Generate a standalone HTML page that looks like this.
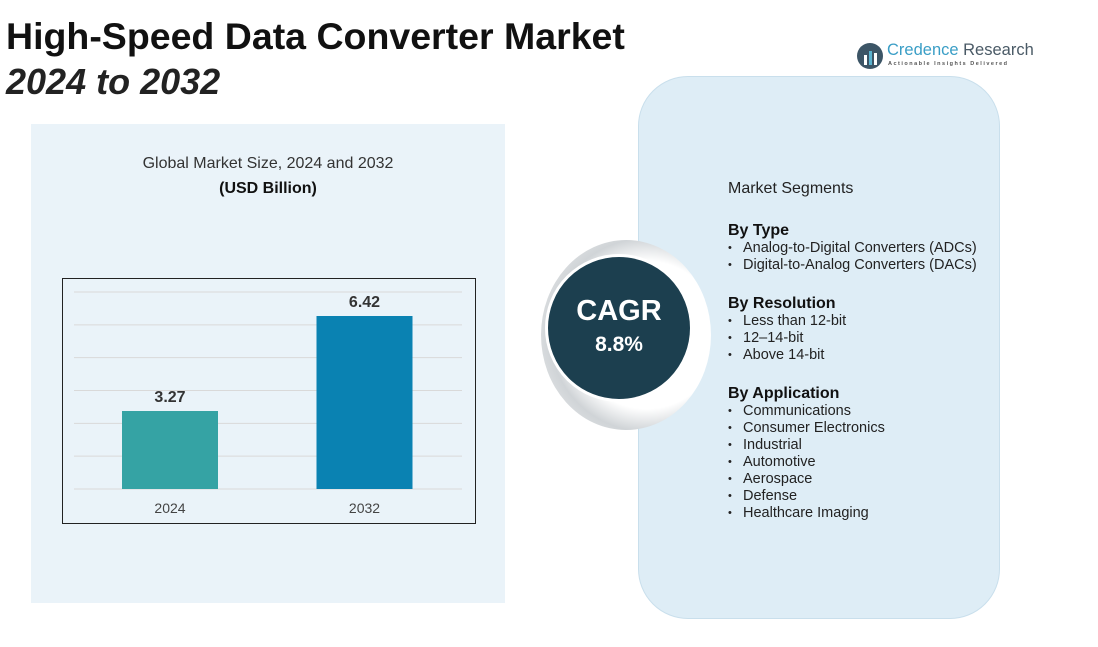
<!DOCTYPE html>
<html><head><meta charset="utf-8"><style>
body{margin:0;width:1098px;height:647px;background:#fff;font-family:"Liberation Sans",sans-serif;position:relative;overflow:hidden}
.abs{position:absolute}
.seg{font-size:14.5px;color:#222;line-height:17px}
.seg b{font-size:16px;display:block;margin-top:21px;margin-bottom:1px;color:#111}
.seg div{padding-left:15px;position:relative}
.seg div:before{content:"•";position:absolute;left:0;font-size:11px}
.seg div.h:before{content:""}
</style></head><body>
<div class="abs" style="left:6px;top:15px;font-size:37.5px;font-weight:bold;color:#111;white-space:nowrap">High-Speed Data Converter Market</div>
<div class="abs" style="left:6px;top:61px;font-size:36px;font-weight:bold;font-style:italic;color:#222">2024 to 2032</div>
<div class="abs" style="left:856px;top:40px;width:180px;height:32px">
<svg width="28" height="28" style="position:absolute;left:0;top:2px"><circle cx="14" cy="14" r="13" fill="#3c5566"/><rect x="8" y="13" width="3" height="10" fill="#fff"/><rect x="13" y="9" width="3" height="14" fill="#5bb3cf"/><rect x="18" y="11" width="3" height="12" fill="#fff"/></svg>
<div class="abs" style="left:31px;top:1px;font-size:16.5px;color:#3a9ec6;white-space:nowrap">Credence <span style="color:#4a5a66">Research</span></div>
<div class="abs" style="left:32px;top:21px;font-size:5.5px;letter-spacing:1.5px;color:#555;white-space:nowrap;font-weight:bold">Actionable Insights Delivered</div>
</div>
<div class="abs" style="left:31px;top:124px;width:474px;height:479px;background:#eaf3f9"></div>
<div class="abs" style="left:31px;top:155px;width:474px;text-align:center;font-size:16px;color:#333">Global Market Size, 2024 and 2032</div>
<div class="abs" style="left:31px;top:180px;width:474px;text-align:center;font-size:16px;font-weight:bold;color:#111">(USD Billion)</div>
<svg class="abs" id="chart" style="left:0;top:0" width="540" height="647"></svg>
<div class="abs" style="left:638px;top:76px;width:360px;height:541px;border-radius:50px;background:#deedf6;border:1px solid #c9dfec"></div>
<div class="abs" style="left:541px;top:240px;width:170px;height:190px;border-radius:50%;background:radial-gradient(circle at 62% 50%,#fff 52%,#d0d4d7 68%,#f4f5f6 100%)"></div>
<div class="abs" style="left:545px;top:254px;width:148px;height:148px;border-radius:50%;background:#1c3f4f;border:3px solid #fff;box-sizing:border-box;color:#fff;text-align:center">
<div style="font-size:29px;font-weight:bold;margin-top:38px">CAGR</div>
<div style="font-size:21px;font-weight:bold;margin-top:5px">8.8%</div></div>
<div class="abs seg" style="left:728px;top:180px;width:270px">
<div class="h" style="padding:0 0 4px 0;font-size:16px">Market Segments</div>
<b>By Type</b><div>Analog-to-Digital Converters (ADCs)</div><div>Digital-to-Analog Converters (DACs)</div>
<b>By Resolution</b><div>Less than 12-bit</div><div>12–14-bit</div><div>Above 14-bit</div>
<b>By Application</b><div>Communications</div><div>Consumer Electronics</div><div>Industrial</div><div>Automotive</div><div>Aerospace</div><div>Defense</div><div>Healthcare Imaging</div>
</div>
<script>
const categories=["2024","2032"];
const values=[3.27,6.42];
const valueLabels=["3.27","6.42"];
const colors=["#35a3a4","#0a82b2"];
const ns="http://www.w3.org/2000/svg";
const svg=document.getElementById('chart');
const base=489, vmin=0.684, k=30.16, x0=62, x1=475;
const y=v=>base-(v-vmin)*k;
const centers=[170,364.5];
const xc=i=>centers[i];
function mk(t,a){const e=document.createElementNS(ns,t);for(const kk in a)e.setAttribute(kk,a[kk]);svg.appendChild(e);return e;}
for(let j=0;j<=6;j++){const gy=base-j*(base-292)/6;
const g=mk('line',{x1:74,x2:462,y1:gy,y2:gy,stroke:'#d9d9d9','stroke-width':1});

}
const fr=mk('rect',{x:62.5,y:278.5,width:413,height:245,fill:'none',stroke:'#222','stroke-width':1});


categories.forEach((c,i)=>{
const r=mk('rect',{x:xc(i)-48,y:y(values[i]),width:96,height:base-y(values[i]),fill:colors[i]});


const t=mk('text',{x:xc(i),y:y(values[i])-9,'text-anchor':'middle','font-size':16,'font-weight':'bold',fill:'#333','font-family':'Liberation Sans'});
t.textContent=valueLabels[i];


const l=mk('text',{x:xc(i),y:513,'text-anchor':'middle','font-size':14,fill:'#444','font-family':'Liberation Sans'});
l.textContent=c;


});
</script>
</body></html>
